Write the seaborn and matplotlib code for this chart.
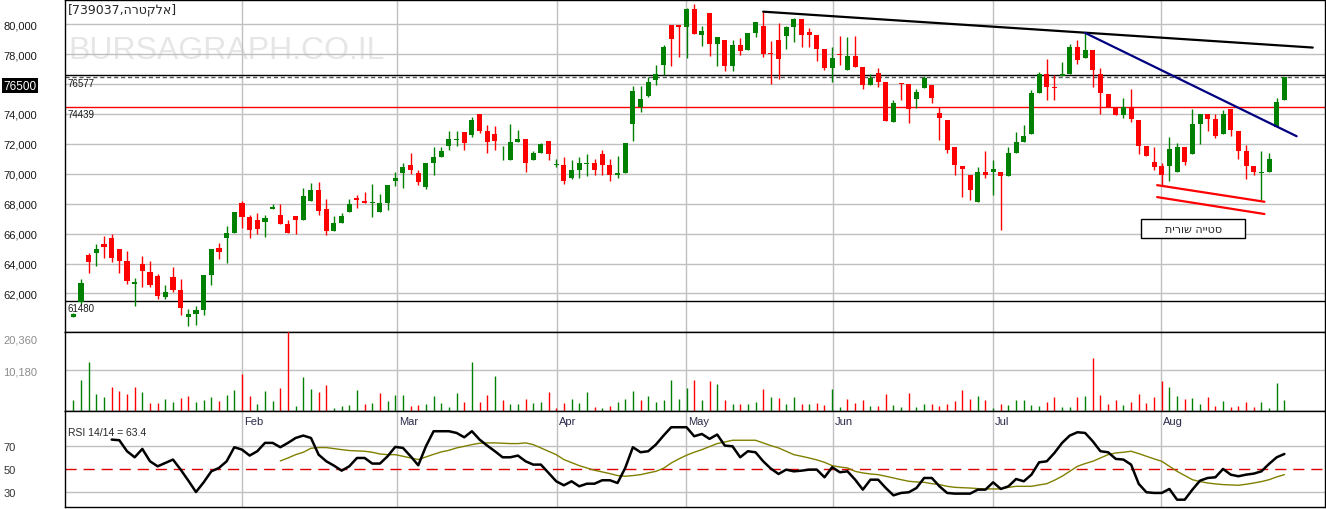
import numpy as np
import pandas as pd
import matplotlib
matplotlib.use("Agg")
import matplotlib.pyplot as plt
import matplotlib.transforms as mtransforms
from matplotlib.patches import Rectangle
import seaborn as sns

# daily candles (Jan - Aug), one entry per trading day
opens = [60440, 61400, 64560, 64710, 65290, 65690, 64960, 64180, 62630, 63960,
         63420, 63160, 61760, 63090, 62220, 60440, 60620, 60890, 63220, 65020,
         65690, 66020, 68040, 67090, 66890, 66760, 67620, 67220, 66620, 67160,
         66890, 68160, 68890, 67620, 66160, 66690, 67420, 68360, 68160, 68020,
         67420, 68020, 69490, 70020, 70620, 70020, 69090, 70690, 71150, 71890,
         72290, 72820, 72560, 74020, 72890, 72690, 71490, 70950, 72150, 72350,
         70890, 71420, 72220, 70590, 70620, 69690, 70220, 70650, 70690, 71290,
         70620, 69890, 70020, 73350, 74490, 75220, 76290, 77290, 79950, 79950,
         79820, 81020, 79290, 80750, 78690, 78950, 77220, 78620, 78290, 79420,
         79890, 78090, 78950, 79220, 79820, 80350, 79490, 79290, 78350, 77090,
         78020, 76950, 77890, 77150, 75950, 76750, 76150, 73490, 76090, 76020,
         75020, 75750, 75950, 74090, 73620, 71820, 70550, 69950, 68090, 70150,
         70090, 70090, 69820, 71420, 72150, 72690, 75420, 76690, 75820, 76550,
         76690, 78490, 77750, 78290, 76690, 75350, 74490, 73950, 74490, 73620,
         71890, 70820, 70490, 70490, 70150, 71820, 71350, 73350, 74020, 73690,
         72690, 74350, 72890, 71550, 70490, 70020, 70090, 73150, 74950]
highs = [60700, 62960, 64690, 65290, 65820, 65960, 65000, 64820, 63020, 64490,
         64160, 63290, 62560, 63760, 62960, 60960, 61160, 63220, 64960, 65360,
         66490, 67420, 68180, 67220, 67360, 67220, 67960, 67960, 66890, 67160,
         69020, 69360, 69420, 68290, 67160, 67360, 68290, 68560, 68760, 69290,
         68620, 69220, 70090, 70750, 71420, 70220, 70750, 71820, 71820, 72890,
         72890, 72820, 73820, 74020, 73290, 73220, 71890, 73350, 72950, 72350,
         71490, 72090, 72220, 71020, 71150, 70890, 71150, 71290, 71020, 71620,
         71020, 71220, 72090, 75880, 75880, 76490, 77290, 78620, 79950, 79950,
         81090, 81350, 79890, 80750, 79150, 78950, 78950, 79090, 79420, 80150,
         80820, 78890, 80090, 79890, 80420, 80350, 79750, 79290, 78350, 78490,
         79220, 79150, 79220, 77150, 76690, 77090, 76150, 74950, 76090, 76020,
         75690, 76550, 75950, 74490, 73620, 71820, 70550, 69950, 70420, 71550,
         70890, 70090, 71820, 72820, 73290, 75620, 76820, 77690, 76620, 77490,
         78690, 78950, 79420, 78290, 77090, 75350, 74490, 75090, 75690, 73620,
         71890, 71820, 70690, 72490, 72090, 71820, 74350, 74020, 74020, 74020,
         74290, 74350, 72890, 71950, 70490, 71550, 71420, 75090, 76500]
lows = [60400, 61300, 63380, 63850, 64380, 64110, 63380, 62630, 61180, 62450,
        62450, 61620, 61620, 62090, 60560, 59850, 59910, 60560, 62560, 64290,
        64020, 66020, 66360, 65690, 65960, 65760, 67620, 66620, 66020, 65960,
        66890, 68160, 67220, 65890, 66160, 66690, 67420, 67690, 68020, 67090,
        67420, 67560, 69160, 69020, 70000, 69220, 68950, 69950, 71150, 71620,
        71890, 71620, 72490, 72750, 71420, 71620, 70890, 70950, 72150, 70090,
        70890, 71420, 70950, 70420, 69290, 69620, 69750, 69820, 69950, 69950,
        69550, 69750, 70020, 72220, 74150, 75150, 75950, 76620, 77220, 77820,
        77750, 79350, 78550, 77890, 77220, 76890, 76890, 77950, 78290, 79150,
        77820, 76020, 76350, 78350, 78820, 78490, 78490, 77550, 76950, 76150,
        77290, 76950, 77150, 75690, 75950, 75820, 73550, 73490, 74950, 73420,
        74420, 75750, 74750, 72290, 71420, 69950, 68420, 68220, 68090, 69750,
        68550, 66220, 69820, 71420, 72150, 72690, 75420, 74950, 74950, 76550,
        76690, 77350, 77750, 75820, 74020, 74490, 73950, 73750, 73490, 71350,
        71220, 70220, 69220, 69550, 70150, 70620, 71350, 72020, 72890, 72420,
        72690, 72550, 71020, 69620, 69950, 68220, 70090, 73150, 74950]
closes = [60620, 62690, 64110, 64960, 65110, 64380, 64180, 62800, 62760, 63490,
          62560, 61800, 62090, 62220, 61000, 60620, 60890, 63220, 64960, 64760,
          66020, 67420, 67090, 66220, 66290, 67020, 67760, 66620, 66020, 66890,
          68490, 68890, 67490, 66160, 66690, 67160, 67960, 68220, 68020, 68090,
          68020, 69220, 69690, 70420, 70220, 69420, 70690, 71150, 71550, 72350,
          72350, 72090, 73620, 72890, 72150, 72220, 71550, 72150, 72350, 70690,
          71420, 72020, 71290, 70650, 69490, 70220, 70690, 70700, 70220, 70620,
          69890, 70020, 72090, 75550, 75020, 76150, 76690, 78490, 79020, 79820,
          81020, 79350, 79550, 78690, 79150, 77220, 78620, 78220, 79420, 80150,
          78020, 78020, 77690, 79820, 80350, 79290, 79290, 78350, 77090, 77750,
          77950, 77890, 77150, 75950, 76420, 76150, 73550, 74750, 76020, 74350,
          75490, 76420, 75090, 73750, 71620, 70620, 70290, 68890, 70090, 69950,
          70350, 69820, 71420, 72150, 72550, 75420, 76690, 75820, 75750, 76690,
          78490, 77620, 78290, 76950, 75420, 74490, 73950, 74490, 73690, 71890,
          71220, 70420, 69950, 71690, 71820, 70820, 73350, 74020, 73690, 72550,
          74020, 72950, 71550, 70490, 70090, 70090, 71020, 74820, 76500]
volumes = [2815, 7783, 12254, 4306, 3560, 6044, 5051, 4306, 6044, 4802,
           2070, 2070, 3064, 2318, 3312, 3809, 2318, 2815, 3560, 2567,
           4057, 5299, 9274, 3809, 1822, 5051, 2567, 5796, 20452, 1325,
           8528, 5548, 4802, 6541, 828, 1325, 1573, 5299, 1822, 2070,
           4554, 2567, 4057, 4057, 1325, 1573, 1822, 3809, 2070, 1076,
           4554, 2318, 12254, 2318, 4057, 8777, 2815, 1822, 1822, 3064,
           2070, 2318, 4802, 828, 2070, 3064, 2070, 4802, 1076, 828,
           1325, 2318, 3064, 5051, 2815, 3809, 2318, 2815, 7783, 3064,
           5796, 7783, 2815, 7535, 6790, 2815, 1822, 1822, 1822, 2318,
           5548, 3560, 3312, 1822, 3560, 1822, 1822, 2070, 1573, 5548,
           1076, 3064, 2070, 2815, 1325, 1325, 4306, 1573, 1076, 4554,
           1076, 1822, 1822, 1325, 1822, 2567, 5299, 3064, 3809, 2815,
           828, 1822, 1573, 2815, 2815, 1573, 1325, 2318, 3560, 1076,
           1076, 3560, 3809, 13248, 4057, 1822, 2815, 1573, 2318, 4306,
           2070, 3560, 7535, 6044, 3809, 3064, 3312, 1822, 3560, 1325,
           2567, 1076, 1325, 2318, 1076, 2318, 828, 7038, 2815]

# RSI(14) and its signal line, as drawn on the lower panel
rsi_start = 5
rsi_vals = [76.0, 75.4, 65.8, 60.5, 67.8, 57.0, 52.6, 55.5, 58.5, 49.7,
            40.1, 30.1, 38.6, 48.2, 51.2, 57.0, 69.3, 67.2, 62.0, 65.8,
            73.1, 73.1, 69.3, 73.1, 77.4, 79.5, 77.4, 62.8, 57.0, 53.2,
            48.8, 52.6, 59.9, 59.9, 55.0, 55.0, 61.4, 69.6, 68.7, 61.4,
            53.5, 70.1, 83.3, 83.3, 83.3, 81.8, 78.0, 83.3, 76.0, 70.7,
            65.8, 60.5, 60.5, 62.0, 57.0, 54.1, 54.1, 46.8, 39.5, 36.0,
            39.5, 35.1, 37.4, 37.4, 40.4, 40.4, 38.0, 51.2, 69.3, 64.9,
            65.8, 71.6, 79.5, 86.8, 86.8, 86.8, 78.9, 80.9, 76.6, 80.4,
            70.7, 70.1, 60.5, 65.8, 64.9, 57.0, 50.6, 45.9, 49.7, 48.2,
            48.8, 49.7, 49.7, 43.0, 51.8, 47.4, 48.2, 40.9, 32.2, 40.9,
            40.9, 33.6, 27.2, 29.3, 29.9, 33.6, 42.4, 42.4, 35.1, 29.3,
            28.7, 28.7, 28.7, 32.2, 32.2, 38.6, 32.8, 35.1, 41.5, 39.5,
            45.3, 56.1, 57.0, 64.3, 73.1, 79.5, 82.4, 81.8, 74.5, 65.8,
            64.9, 59.1, 58.5, 54.1, 37.2, 29.9, 29.3, 29.3, 32.8, 23.4,
            23.4, 32.2, 40.1, 42.4, 43.0, 50.3, 45.3, 43.9, 45.3, 46.2,
            48.2, 54.7, 60.5, 63.4]
sig_start = 27
sig_vals = [57.3, 59.9, 62.8, 64.9, 68.4, 69.0, 69.0, 68.1, 67.2, 66.4,
            66.1, 65.8, 64.9, 63.4, 62.8, 62.8, 61.4, 59.9, 58.5, 60.8,
            63.1, 65.2, 66.6, 68.7, 70.1, 71.6, 72.8, 73.1, 73.1, 72.8,
            72.5, 72.5, 73.1, 71.6, 68.7, 65.8, 62.8, 58.5, 55.8, 53.2,
            51.2, 49.1, 47.7, 46.2, 44.5, 43.9, 44.5, 45.3, 46.8, 48.2,
            50.9, 55.5, 59.1, 62.3, 64.9, 67.2, 69.9, 72.5, 73.9, 75.4,
            75.4, 75.4, 75.4, 73.1, 70.7, 68.7, 65.8, 62.8, 61.4, 59.9,
            58.2, 56.1, 53.2, 52.0, 51.2, 48.2, 46.8, 45.9, 45.3, 43.9,
            42.4, 40.9, 39.5, 38.9, 38.6, 37.4, 36.6, 35.1, 34.2, 33.9,
            33.6, 33.1, 32.8, 32.8, 32.8, 34.2, 35.1, 35.1, 35.1, 36.3,
            37.4, 40.4, 43.9, 48.2, 52.6, 55.0, 57.0, 59.9, 62.8, 64.3,
            64.9, 65.8, 63.7, 61.4, 59.1, 57.0, 52.6, 48.2, 44.5, 40.9,
            39.2, 38.0, 37.2, 36.6, 36.3, 36.0, 36.9, 38.0, 39.2, 40.9,
            43.3, 45.3]

month_names = ["Feb", "Mar", "Apr", "May", "Jun", "Jul", "Aug"]
month_pos = [22, 42.2, 63.1, 79.9, 99.1, 120, 141.9]

# drawn lines / levels
level_red = 74439
level_top = 76577
level_low = 61480
trend_black_x, trend_black_y = [90, 161.7], [80840, 78440]
trend_blue_x, trend_blue_y = [132, 159.6], [79420, 72510]
chan1_x, chan1_y = [141.4, 155.4], [69240, 68130]
chan2_x, chan2_y = [141.4, 155.4], [68440, 67310]

sns.set_style("white")
plt.rcParams['font.family'] = ['Liberation Sans', 'DejaVu Sans']

n = len(closes)
idx = np.arange(n)
df = pd.DataFrame({"open": opens, "high": highs, "low": lows,
                   "close": closes, "volume": volumes}, index=idx)
green, red = "#008000", "#ff0000"
candle_col = np.where(df["close"] >= df["open"], green, red)
vol_col = np.where(df["close"].diff().fillna(1) >= 0, green, red)

fig = plt.figure(figsize=(13.26, 5.10), dpi=100)
L, W = 65 / 1326, 1260 / 1326
ax_p = fig.add_axes([L, 177 / 510, W, 332 / 510])
ax_v = fig.add_axes([L, 98 / 510, W, 79 / 510], sharex=ax_p)
ax_r = fig.add_axes([L, 2 / 510, W, 96 / 510], sharex=ax_p)

grid_kw = dict(color="#c0c0c0", lw=1)
for ax in (ax_p, ax_v, ax_r):
    for s in ax.spines.values():
        s.set_color("black")
        s.set_linewidth(1)
    ax.set_xticks(month_pos)
    ax.tick_params(axis="x", length=0, labelbottom=False)
    ax.tick_params(axis="y", length=0, pad=44.5, labelsize=8)
    ax.set_axisbelow(True)
    ax.set_xlabel("")
    ax.set_ylabel("")
ax_p.set_xlim(-1.09, 163.3)

# ---- price panel ----
ax_p.set_ylim(59420, 81620)
pticks = list(range(62000, 80001, 2000))
ax_p.set_yticks(pticks)
ax_p.set_yticklabels(["76500" if v == 76000 else f"{v:,}" for v in pticks])
ax_p.grid(True, **grid_kw)
for lbl, v in zip(ax_p.get_yticklabels(), pticks):
    lbl.set_ha("left")
    if v == 76000:
        lbl.set_color("white")
        lbl.set_fontsize(8.5)
        lbl.set_bbox(dict(facecolor="black", edgecolor="none", pad=1.2))
    else:
        lbl.set_color("#1a1a1a")

ax_p.text(0.0024, 0.85, "BURSAGRAPH.CO.IL", transform=ax_p.transAxes,
          fontsize=23, color="#e6e6e6", va="center", ha="left", zorder=0.5)
ax_p.text(0.0024, 0.973, "[739037," + "אלקטרה"[::-1] + "]",
          transform=ax_p.transAxes, fontsize=9, va="center", ha="left",
          family=["DejaVu Sans"])

body_lo = df[["open", "close"]].min(axis=1)
body_h = (df["close"] - df["open"]).abs().clip(lower=60)
ax_p.vlines(idx, df["low"], df["high"], colors=candle_col, lw=1, zorder=3)
ax_p.bar(idx, body_h, bottom=body_lo, width=0.66, color=candle_col, lw=0, zorder=4)

ax_p.axhline(level_red, color=red, lw=1, zorder=2)
ax_p.axhline(level_top, color="black", lw=1, zorder=2)
ax_p.axhline(closes[-1], color="#555555", lw=1, ls=(0, (3, 2)), zorder=2)
ax_p.axhline(level_low, color="black", lw=1, zorder=2)
btrans = mtransforms.blended_transform_factory(ax_p.transAxes, ax_p.transData)
for lv in (level_top, level_red, level_low):
    ax_p.annotate(str(lv), (0.0016, lv), xycoords=btrans, xytext=(0, -1.5),
                  textcoords="offset points", va="top", ha="left",
                  fontsize=7, color="#1a1a1a")

ax_p.plot(trend_black_x, trend_black_y, color="black", lw=1.6, zorder=5)
ax_p.plot(trend_blue_x, trend_blue_y, color="#000080", lw=1.6, zorder=5)
ax_p.plot(chan1_x, chan1_y, color=red, lw=1.6, zorder=5)
ax_p.plot(chan2_x, chan2_y, color=red, lw=1.6, zorder=5)

ax_p.add_patch(Rectangle((139.3, 65690), 13.6, 1265, facecolor="white",
                         edgecolor="black", lw=1, zorder=5))
ax_p.text(146.1, 66320, "סטייה שורית"[::-1], ha="center", va="center",
          fontsize=8, zorder=6, family=["DejaVu Sans"])

# ---- volume panel ----
ax_v.set_ylim(0, 19700)
ax_v.set_yticks([10180])
ax_v.set_yticklabels(["10,180"])
ax_v.grid(True, **grid_kw)
for lbl in ax_v.get_yticklabels():
    lbl.set_ha("left")
    lbl.set_color("#8c8c8c")
fig.text(3 / 1326, 1 - 341 / 510, "20,360", fontsize=8, color="#8c8c8c",
         va="center", ha="left")
ax_v.vlines(idx, 0, df["volume"], colors=vol_col, lw=1, zorder=3)

# ---- RSI panel ----
ax_r.set_ylim(17, 101)
ax_r.set_yticks([30, 50, 70])
ax_r.grid(True, axis="x", **grid_kw)
for lbl in ax_r.get_yticklabels():
    lbl.set_ha("left")
    lbl.set_color("#333333")
ax_r.axhline(70, zorder=0, **grid_kw)
ax_r.axhline(30, zorder=0, **grid_kw)
ax_r.axhline(50, color="#e00000", lw=1, ls=(0, (8, 5)), zorder=1)

rsi_df = pd.DataFrame({"i": np.arange(rsi_start, rsi_start + len(rsi_vals)),
                       "rsi": rsi_vals})
sig_df = pd.DataFrame({"i": np.arange(sig_start, sig_start + len(sig_vals)),
                       "sig": sig_vals})
sns.lineplot(data=sig_df, x="i", y="sig", ax=ax_r, color="#808000", lw=1,
             legend=False, zorder=3)
sns.lineplot(data=rsi_df, x="i", y="rsi", ax=ax_r, color="black", lw=1.8,
             legend=False, zorder=4)
ax_r.set_xlabel("")
ax_r.set_ylabel("")

xtrans = mtransforms.blended_transform_factory(ax_r.transData, ax_r.transAxes)
for name, pos in zip(month_names, month_pos):
    ax_r.text(pos + 0.25, 1 - 10 / 96, name, transform=xtrans, fontsize=8,
              color="#2a2a4a", va="center", ha="left")
ax_r.text(0.0024, 1 - 21 / 96, f"RSI 14/14 = {rsi_vals[-1]}",
          transform=ax_r.transAxes, fontsize=7.5, va="center", ha="left")

fig.savefig("out.png", dpi=100)
